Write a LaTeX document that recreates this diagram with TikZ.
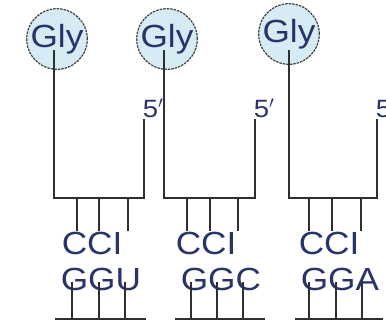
\documentclass[tikz,border=0pt]{standalone}
\usepackage{fontspec}
\setmainfont{Liberation Sans}
\newfontfamily\widesans[FakeStretch=1.1]{Liberation Sans}
\definecolor{navy}{HTML}{28346A}
\definecolor{glyfill}{HTML}{D6EBF4}
\definecolor{strand}{HTML}{2F2F2F}
\tikzset{
  % amino acid at the top of each tRNA
  amino/.style={circle, draw=black!75, fill=glyfill, minimum size=58pt,
    inner sep=0pt, line width=1.2pt, dash pattern=on 2.5pt off 1pt,
    text=navy, font=\widesans\fontsize{32}{32}\selectfont},
  % anticodon / codon rows
  codon/.style={anchor=base west, inner sep=0pt, text=navy,
    font=\widesans\fontsize{32}{32}\selectfont},
  prime/.style={anchor=base west, inner sep=0pt, text=navy,
    font=\widesans\fontsize{25}{25}\selectfont},
}

\begin{document}
\begin{tikzpicture}[x=1pt, y=-1pt, line width=1.5pt, color=strand]
    \useasboundingbox (0,0) rectangle (386,323);

    \node[amino] (gly1) at (57,39) {Gly};
    \node[amino] (gly2) at (167,39) {Gly};
    \node[amino] (gly3) at (289,34) {Gly};

    \node[prime] (five1) at (142,118) {5$'$};
    \node[prime] (five2) at (253,118) {5$'$};
    \node[prime] (five3) at (375,118) {5$'$};

    \coordinate (corner1) at (144,198);
    \coordinate (corner2) at (255,198);
    \coordinate (corner3) at (377,198);

    % tRNA backbones
    \draw ([shift={(-3,11)}]gly1.center) |- (corner1) -- (corner1 |- five1.south);
    \draw ([shift={(-3,11)}]gly2.center) |- (corner2) -- (corner2 |- five2.south);
    \draw ([shift={(0,16)}]gly3.center) |- (corner3) -- (corner3 |- five3.south);

    \node[codon] (anti1) at (61,255) {CCI};
    \node[codon] (anti2) at (175,255) {CCI};
    \node[codon] (anti3) at (298,255) {CCI};
    \node[codon] (cod1) at (60,291) {GGU};
    \node[codon] (cod2) at (180,291) {GGC};
    \node[codon] (cod3) at (300,291) {GGA};

    % base pairs
    \foreach \x in {77,99,128,187,210,238,309,332,361}
      \draw (\x,198) -- (\x,231);
    \foreach \x in {72,99,125,191,217,243,309,336,362}
      \draw (\x,282) -- (\x,319);

    % mRNA
    \draw (55,319) -- (146,319);
    \draw (175,319) -- (265,319);
    \draw (295,319) -- (383,319);
\end{tikzpicture}
\end{document}
